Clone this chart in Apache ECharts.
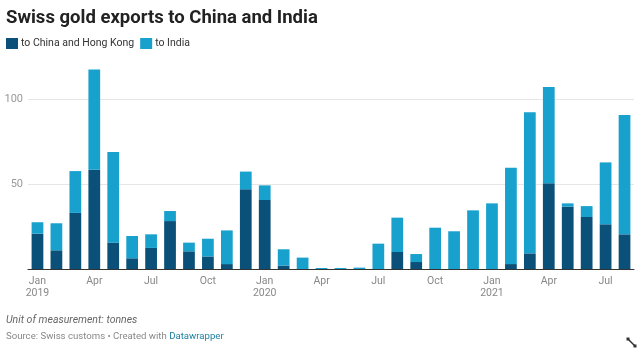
<!DOCTYPE html>
<html>
<head>
<meta charset="utf-8">
<script src="https://cdn.jsdelivr.net/npm/echarts@6/dist/echarts.min.js"></script>
<style>
html,body{margin:0;padding:0;background:#fff;}
#c{width:640px;height:351px;}
</style>
</head>
<body>
<div id="c"></div>
<script>
var months = ['2019-01','2019-02','2019-03','2019-04','2019-05','2019-06','2019-07','2019-08','2019-09','2019-10','2019-11','2019-12',
  '2020-01','2020-02','2020-03','2020-04','2020-05','2020-06','2020-07','2020-08','2020-09','2020-10','2020-11','2020-12',
  '2021-01','2021-02','2021-03','2021-04','2021-05','2021-06','2021-07','2021-08'];
var tickLabels = ['Jan\n2019','','','Apr','','','Jul','','','Oct','','',
  'Jan\n2020','','','Apr','','','Jul','','','Oct','','',
  'Jan\n2021','','','Apr','','','Jul',''];
var chinaHK = [20.8,11,33,58.4,15.5,6.3,12.4,28.2,10.4,7.4,2.9,46.9,
  40.6,2,0,0,0,0,0,10,4.1,0,0,0,
  0,2.9,9.2,50.4,36.7,30.6,26.3,20.4];
var totals = [27.5,26.9,57.6,117.3,68.8,19.4,20.4,34.1,15.5,17.8,22.7,57.3,
  49.2,11.6,6.7,0.6,0.6,0.8,14.9,30.2,8.8,24.3,22.2,34.5,
  38.6,59.6,92.2,107,38.6,37,62.7,90.6];
var india = totals.map(function(t,i){return Math.max(0, +(t - chinaHK[i]).toFixed(1));});

var chart = echarts.init(document.getElementById('c'), null, {renderer:'canvas'});
var FONT = 'Roboto, "Noto Sans", sans-serif';
chart.setOption({
  animation:false,
  textStyle:{fontFamily:FONT},
  title:{
    text:'Swiss gold exports to China and India',
    left:6, top:9, padding:0,
    textStyle:{fontFamily:FONT,fontSize:18.5,fontWeight:'bold',color:'#222'}
  },
  legend:{
    left:6, top:38, padding:0, itemWidth:12, itemHeight:11, itemGap:6,
    icon:'rect', selectedMode:false,
    textStyle:{fontFamily:FONT,fontSize:10.5,color:'#333', padding:[0,0,0,-2]},
    data:['to China and Hong Kong','to India']
  },
  grid:{left:28, right:6, top:65, bottom:82, containLabel:false},
  xAxis:{
    type:'category', data:months,
    axisLine:{show:true,lineStyle:{color:'#333',width:1}},
    axisTick:{show:false},
    axisLabel:{
      interval:0, color:'#888', fontSize:10.5, lineHeight:12, margin:6, fontFamily:FONT,
      formatter:function(v,i){return tickLabels[i];}
    }
  },
  yAxis:{
    type:'value', min:0, max:120, interval:50,
    axisLine:{show:false}, axisTick:{show:false},
    axisLabel:{color:'#999',fontSize:11,margin:5,fontFamily:FONT, showMaxLabel:false,
      formatter:function(v){return v===0?'':v;}},
    splitLine:{show:true, showMaxLine:false, lineStyle:{color:'#e6e6e6',width:1}}
  },
  series:[
    {name:'to China and Hong Kong', type:'bar', stack:'t', data:chinaHK, barWidth:'62%',
      itemStyle:{color:'#0a5078'}},
    {name:'to India', type:'bar', stack:'t', data:india, barWidth:'62%',
      itemStyle:{color:'#18a1cd'}}
  ],
  graphic:[
    {type:'text', left:6, top:315, style:{text:'Unit of measurement: tonnes', font:'italic 10.5px '+FONT, fill:'#666'}},
    {type:'text', left:6, top:332, style:{
      text:'{a|Source: Swiss customs • Created with }{b|Datawrapper}',
      rich:{a:{fontSize:9.6,fontFamily:FONT,fill:'#888'},b:{fontSize:9.6,fontFamily:FONT,fill:'#1d81a2'}}
    }},
    {type:'line', shape:{x1:628,y1:339,x2:635,y2:346}, style:{stroke:'#333',lineWidth:1.5}},
    {type:'rect', shape:{x:626.5,y:337.5,width:3,height:3}, style:{fill:'#333'}},
    {type:'rect', shape:{x:633.5,y:344.5,width:3,height:3}, style:{fill:'#333'}}
  ]
});
</script>
</body>
</html>
